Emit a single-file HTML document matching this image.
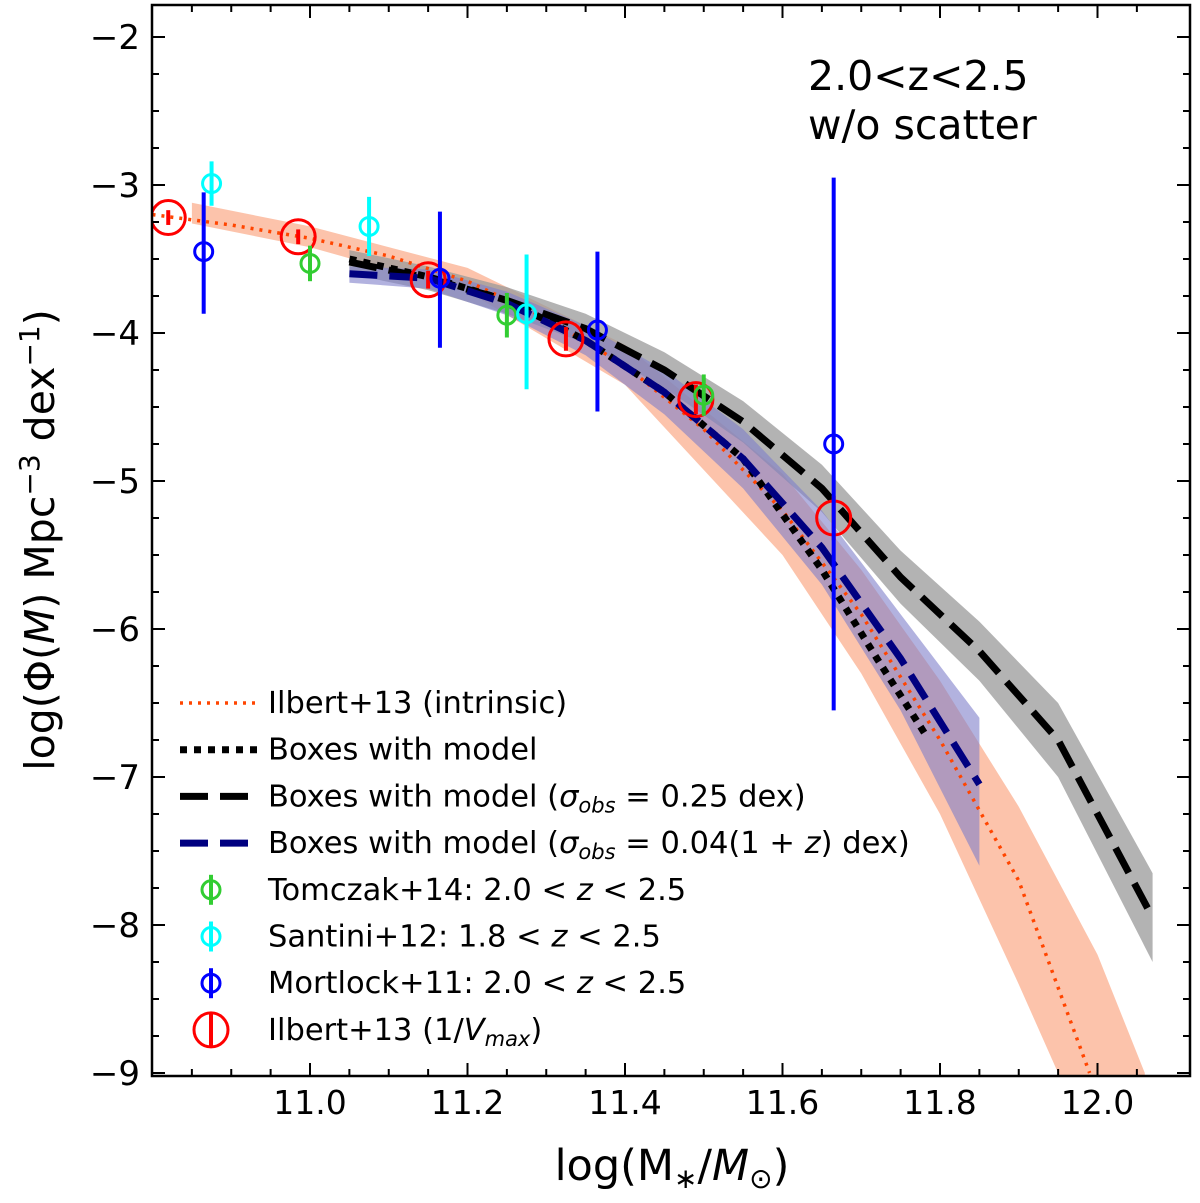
<!DOCTYPE html>
<html><head><meta charset="utf-8"><style>
body{margin:0;background:#fff}
text{font-family:"DejaVu Sans","Liberation Sans",sans-serif;fill:#000}
</style></head><body>
<svg id="chart" width="1200" height="1198" xmlns="http://www.w3.org/2000/svg">
<g id="plot"></g>
<text x="808" y="90" font-size="41">2.0&lt;z&lt;2.5</text>
<text x="808" y="139" font-size="41">w/o scatter</text>
<text x="672" y="1180" font-size="43" text-anchor="middle">log(M<tspan font-size="28" dy="8">∗</tspan><tspan dy="-8">/</tspan><tspan font-style="italic">M</tspan><tspan font-size="28" dy="8">⊙</tspan><tspan dy="-8">)</tspan></text>
<text transform="translate(54,540) rotate(-90)" font-size="41" text-anchor="middle">log(Φ(<tspan font-style="italic">M</tspan>) Mpc<tspan font-size="28" dy="-15">−3</tspan><tspan dy="15"> dex</tspan><tspan font-size="28" dy="-15">−1</tspan><tspan dy="15">)</tspan></text>
</svg>
<script>
const intrinsicX=[10.8,10.9,11.0,11.1,11.2,11.3,11.4,11.5,11.6,11.7,11.8,11.9,11.99];
const intrinsicY=[-3.2,-3.27,-3.36,-3.48,-3.65,-3.9,-4.22,-4.65,-5.2,-5.9,-6.75,-7.7,-9.0];
const orangeBandX=[10.85,11.0,11.2,11.4,11.6,11.7,11.8,11.9,12.0,12.06];
const orangeBandHi=[-3.12,-3.28,-3.56,-4.08,-4.95,-5.6,-6.35,-7.2,-8.2,-9.0];
const orangeBandLo=[-3.26,-3.42,-3.72,-4.35,-5.5,-6.3,-7.25,-8.4,-9.6,-9.9];
const modelX=[11.05,11.15,11.25,11.35,11.45,11.55,11.65,11.72,11.78];
const modelY=[-3.5,-3.62,-3.78,-4.05,-4.4,-4.85,-5.6,-6.2,-6.7];
const scatX=[11.05,11.15,11.25,11.35,11.45,11.55,11.65,11.75,11.85,11.95,12.07];
const scatY=[-3.52,-3.63,-3.78,-3.97,-4.25,-4.6,-5.05,-5.65,-6.15,-6.75,-7.95];
const scatErr=[0.08,0.08,0.09,0.1,0.12,0.14,0.16,0.18,0.2,0.25,0.3];
const navyX=[11.05,11.15,11.25,11.35,11.45,11.55,11.65,11.75,11.85];
const navyY=[-3.6,-3.63,-3.8,-4.05,-4.4,-4.85,-5.45,-6.2,-7.05];
const navyHi=[-3.55,-3.57,-3.72,-3.95,-4.25,-4.65,-5.2,-5.9,-6.6];
const navyLo=[-3.66,-3.7,-3.88,-4.15,-4.55,-5.05,-5.7,-6.55,-7.6];
const tomX=[11.0,11.25,11.5],tomY=[-3.53,-3.88,-4.42],tomE=[0.12,0.15,0.14];
const santX=[10.875,11.075,11.275],santY=[-2.99,-3.28,-3.87],santHi=[-2.84,-3.08,-3.47],santLo=[-3.14,-3.48,-4.38];
const mortX=[10.865,11.165,11.365,11.665],mortY=[-3.45,-3.63,-3.98,-4.75],mortHi=[-3.05,-3.18,-3.45,-2.95],mortLo=[-3.87,-4.1,-4.53,-6.55];
const ilbX=[10.82,10.985,11.15,11.325,11.49,11.665],ilbY=[-3.22,-3.35,-3.64,-4.04,-4.45,-5.25],ilbE=[0.05,0.05,0.06,0.08,0.1,0.15];
const xTicks=[11.0,11.2,11.4,11.6,11.8,12.0];
const xTickLabels=["11.0","11.2","11.4","11.6","11.8","12.0"];
const yTicks=[-2,-3,-4,-5,-6,-7,-8,-9];
const yTickLabels=["−2","−3","−4","−5","−6","−7","−8","−9"];

const L=152,R=1190,T=5,B=1076;
const X=v=>152.5+(v-10.8)*787.5;
const Y=v=>37+(-2-v)*148;
const NS="http://www.w3.org/2000/svg";
const svg=document.getElementById('chart');
const g=document.getElementById('plot');
function el(tag,attrs,parent){const e=document.createElementNS(NS,tag);for(const k in attrs)e.setAttribute(k,attrs[k]);(parent||g).appendChild(e);return e;}
const defs=el('defs',{},svg);
const cp=el('clipPath',{id:'clip'},defs);el('rect',{x:L,y:T,width:R-L,height:B-T},cp);
const dg=el('g',{'clip-path':'url(#clip)'});


function line(xs,ys){return xs.map((x,i)=>(i?'L':'M')+X(x).toFixed(1)+','+Y(ys[i]).toFixed(1)).join(' ');}
function band(xs,hi,lo){return line(xs,hi)+' '+xs.slice().reverse().map((x,i)=>'L'+X(x).toFixed(1)+','+Y(lo[lo.length-1-i]).toFixed(1)).join(' ')+'Z';}
let e;
e=el('path',{d:band(orangeBandX,orangeBandHi,orangeBandLo),fill:'#fbb89c',opacity:0.85},dg);

e=el('path',{d:band(scatX,scatY.map((v,i)=>v+scatErr[i]),scatY.map((v,i)=>v-scatErr[i])),fill:'#999',opacity:0.75},dg);

e=el('path',{d:band(navyX,navyHi,navyLo),fill:'#7f7fc9',opacity:0.6},dg);

e=el('path',{d:line(intrinsicX,intrinsicY),fill:'none',stroke:'#ff4500','stroke-width':3.5,'stroke-dasharray':'3,6'},dg);

e=el('path',{d:line(modelX,modelY),fill:'none',stroke:'#000','stroke-width':7,'stroke-dasharray':'7,7'},dg);

e=el('path',{d:line(scatX,scatY),fill:'none',stroke:'#000','stroke-width':7,'stroke-dasharray':'28,12'},dg);

e=el('path',{d:line(navyX,navyY),fill:'none',stroke:'#000080','stroke-width':7,'stroke-dasharray':'28,12'},dg);

function pts(xs,ys,hi,lo,color,r,sw,name){
 xs.forEach((x,i)=>{
  const gg=el('g',{},dg);
  
  
  el('line',{x1:X(x),x2:X(x),y1:Y(hi[i]),y2:Y(lo[i]),stroke:color,'stroke-width':sw},gg);
  el('circle',{cx:X(x),cy:Y(ys[i]),r:r,fill:'none',stroke:color,'stroke-width':3},gg);
 });
}
pts(ilbX,ilbY,ilbY.map((v,i)=>v+ilbE[i]),ilbY.map((v,i)=>v-ilbE[i]),'#ff0000',17,4,'ilbert-vmax');
pts(tomX,tomY,tomY.map((v,i)=>v+tomE[i]),tomY.map((v,i)=>v-tomE[i]),'#32cd32',9,4,'tomczak');
pts(santX,santY,santHi,santLo,'#00ffff',9,4,'santini');
pts(mortX,mortY,mortHi,mortLo,'#0000ff',9,4,'mortlock');
e=el('rect',{x:L,y:T,width:R-L,height:B-T,fill:'none',stroke:'#000','stroke-width':2.5});

for(let v=10.85;v<12.07;v+=0.05){const x=X(v);const maj=Math.abs(Math.round(v*5)-v*5)<1e-6;const l=maj?13:7;
 el('line',{x1:x,x2:x,y1:B,y2:B-l,stroke:'#000','stroke-width':2});el('line',{x1:x,x2:x,y1:T,y2:T+l,stroke:'#000','stroke-width':2});}
for(let v=-9;v<=-1.8;v+=0.25){const y=Y(v);const maj=Math.abs(v-Math.round(v))<1e-6;const l=maj?13:7;
 el('line',{x1:L,x2:L+l,y1:y,y2:y,stroke:'#000','stroke-width':2});el('line',{x1:R,x2:R-l,y1:y,y2:y,stroke:'#000','stroke-width':2});}
xTicks.forEach((v,i)=>{const t=el('text',{x:X(v),y:1114,'font-size':33,'text-anchor':'middle'});t.textContent=xTickLabels[i];
 });
yTicks.forEach((v,i)=>{const t=el('text',{x:140,y:Y(v)+12,'font-size':34,'text-anchor':'end'});t.textContent=yTickLabels[i];
 });
const leg=el('g',{});

const items=[['Ilbert+13 (intrinsic)','dot'],['Boxes with model','bdot'],['Boxes with model (<tspan font-style="italic">σ<tspan font-size="21" dy="6">obs</tspan></tspan><tspan dy="-6"> = 0.25 dex)</tspan>','bdash'],['Boxes with model (<tspan font-style="italic">σ<tspan font-size="21" dy="6">obs</tspan></tspan><tspan dy="-6"> = 0.04(1 + <tspan font-style="italic">z</tspan>) dex)</tspan>','ndash'],['Tomczak+14: 2.0 &lt; <tspan font-style="italic">z</tspan> &lt; 2.5','#32cd32'],['Santini+12: 1.8 &lt; <tspan font-style="italic">z</tspan> &lt; 2.5','#00ffff'],['Mortlock+11: 2.0 &lt; <tspan font-style="italic">z</tspan> &lt; 2.5','#0000ff'],['Ilbert+13 (1/<tspan font-style="italic">V<tspan font-size="21" dy="6">max</tspan></tspan><tspan dy="-6">)</tspan>','red']];
items.forEach((it,i)=>{const y=703+i*46.7;const gg=el('g',{},leg);
 
 const k=it[1];
 if(k==='dot')el('line',{x1:180,x2:258,y1:y,y2:y,stroke:'#ff4500','stroke-width':3.5,'stroke-dasharray':'3,6'},gg);
 else if(k==='bdot')el('line',{x1:180,x2:258,y1:y,y2:y,stroke:'#000','stroke-width':7,'stroke-dasharray':'7,7'},gg);
 else if(k==='bdash')el('line',{x1:180,x2:258,y1:y,y2:y,stroke:'#000','stroke-width':7,'stroke-dasharray':'28,12'},gg);
 else if(k==='ndash')el('line',{x1:180,x2:258,y1:y,y2:y,stroke:'#000080','stroke-width':7,'stroke-dasharray':'28,12'},gg);
 else if(k==='red'){el('circle',{cx:211,cy:y,r:17,fill:'none',stroke:'#f00','stroke-width':3},gg);el('line',{x1:211,x2:211,y1:y-17,y2:y+17,stroke:'#f00','stroke-width':4},gg);}
 else{el('circle',{cx:211,cy:y,r:9,fill:'none',stroke:k,'stroke-width':3},gg);el('line',{x1:211,x2:211,y1:y-15,y2:y+15,stroke:k,'stroke-width':4},gg);}
 const t=el('text',{x:268,y:y+10,'font-size':30.5},gg);t.innerHTML=it[0];
});
</script>
</body></html>
